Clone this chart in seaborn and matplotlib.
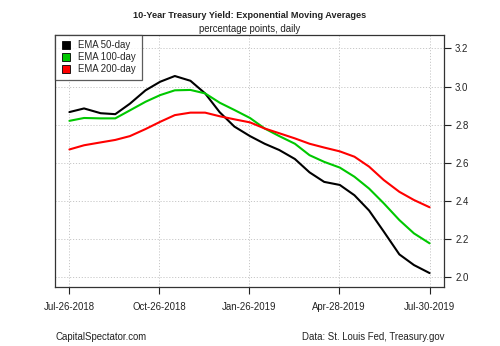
import matplotlib
matplotlib.use("Agg")
import matplotlib.pyplot as plt
from matplotlib.lines import Line2D
import seaborn as sns
import pandas as pd

# ---- data ----
dates = ["2018-07-26", "2018-08-10", "2018-08-27", "2018-09-11", "2018-09-26",
         "2018-10-12", "2018-10-27", "2018-11-11", "2018-11-27", "2018-12-12",
         "2018-12-27", "2019-01-11", "2019-01-27", "2019-02-11", "2019-02-26",
         "2019-03-14", "2019-03-29", "2019-04-13", "2019-04-29", "2019-05-14",
         "2019-05-29", "2019-06-13", "2019-06-29", "2019-07-14", "2019-07-30"]
ema50 = [2.866, 2.885, 2.860, 2.855, 2.910, 2.980, 3.025, 3.055, 3.030, 2.964,
         2.865, 2.790, 2.740, 2.700, 2.667, 2.620, 2.550, 2.500, 2.484, 2.430,
         2.350, 2.240, 2.120, 2.064, 2.022]
ema100 = [2.820, 2.835, 2.833, 2.833, 2.875, 2.920, 2.955, 2.980, 2.982, 2.964,
          2.915, 2.877, 2.835, 2.780, 2.740, 2.700, 2.640, 2.605, 2.575, 2.527,
          2.465, 2.388, 2.300, 2.230, 2.178]
ema200 = [2.670, 2.692, 2.707, 2.720, 2.740, 2.777, 2.815, 2.850, 2.863, 2.863,
          2.844, 2.828, 2.812, 2.780, 2.755, 2.728, 2.700, 2.680, 2.660, 2.632,
          2.580, 2.510, 2.448, 2.405, 2.367]
series_names = ["EMA 50-day", "EMA 100-day", "EMA 200-day"]
series_colors = ["#000000", "#00C800", "#FF0000"]
xtick_dates = ["2018-07-26", "2018-10-26", "2019-01-26", "2019-04-28", "2019-07-30"]
ytick_vals = [2.0, 2.2, 2.4, 2.6, 2.8, 3.0, 3.2]
title = "10-Year Treasury Yield: Exponential Moving Averages"
subtitle = "percentage points, daily"
footer_left = "CapitalSpectator.com"
footer_right = "Data: St. Louis Fed, Treasury.gov"

# ---- build long table ----
d = pd.to_datetime(dates)
df = pd.concat([
    pd.DataFrame({"date": d, "value": v, "series": n})
    for v, n in zip([ema50, ema100, ema200], series_names)
])

sns.set_style("white")
plt.rcParams["font.family"] = ["Liberation Sans", "DejaVu Sans"]

W, H = 500, 346
fig = plt.figure(figsize=(W / 100, H / 100), dpi=100)
ax = fig.add_axes([55 / W, 1 - 287 / H, (444 - 55) / W, (287 - 35) / H])

sns.lineplot(data=df, x="date", y="value", hue="series", hue_order=series_names,
             palette=series_colors, linewidth=1.5, ax=ax, legend=False)

x0 = pd.Timestamp("2018-07-26")
x1 = pd.Timestamp("2019-07-30")
pad = (x1 - x0) * 0.04
ax.set_xlim(x0 - pad, x1 + pad)
ax.set_ylim(1.949, 3.27)

fs = 6.9
xt = pd.to_datetime(xtick_dates)
ax.set_xticks(xt)
ax.set_xticklabels([t.strftime("%b-%d-%Y") for t in xt])
ax.set_yticks(ytick_vals)
ax.set_yticklabels([f"{v:.1f}" for v in ytick_vals])
ax.yaxis.tick_right()
ax.tick_params(axis="x", direction="out", length=5, width=0.8, pad=6,
               labelsize=fs, colors="#222222", bottom=True)
ax.tick_params(axis="y", direction="out", length=5, width=0.8, pad=3,
               labelsize=fs, colors="#222222", right=True, left=False)
ax.set_xlabel("")
ax.set_ylabel("")
ax.grid(True, color="#C8C8C8", linestyle=(0, (1.2, 1.8)), linewidth=0.7)
for s in ax.spines.values():
    s.set_visible(True)
    s.set_color("#333333")
    s.set_linewidth(0.9)

handles = [Line2D([0], [0], marker="s", linestyle="none", markersize=6,
                  markerfacecolor=c, markeredgecolor="#000000", markeredgewidth=0.6)
           for c in series_colors]
leg = ax.legend(handles, series_names, loc="upper left", bbox_to_anchor=(0, 1),
                frameon=True, fancybox=False, fontsize=fs, borderaxespad=0,
                handletextpad=0.7, labelspacing=0.22, borderpad=0.55,
                handlelength=1.2)
leg.get_frame().set_edgecolor("#333333")
leg.get_frame().set_linewidth(0.9)

fig.text(0.5, 1 - 15 / H, title, ha="center", va="center", fontsize=6.6,
         fontweight="bold", color="#222222")
fig.text(0.5, 1 - 29 / H, subtitle, ha="center", va="center", fontsize=fs,
         color="#222222")
fig.text(55 / W, 1 - 337 / H, footer_left, ha="left", va="center", fontsize=fs,
         color="#222222")
fig.text(444 / W, 1 - 337 / H, footer_right, ha="right", va="center", fontsize=fs,
         color="#222222")

fig.savefig("out.png", dpi=100, facecolor="white")
